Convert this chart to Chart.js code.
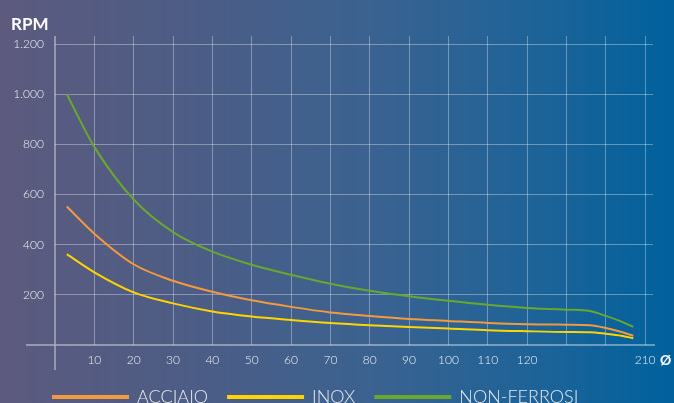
<!DOCTYPE html>
<html>
<head>
<meta charset="utf-8">
<script src="https://cdn.jsdelivr.net/npm/chart.js@4.4.0/dist/chart.umd.min.js"></script>
<style>
    html, body {
        margin: 0;
        padding: 0;
        overflow: hidden;
        width: 674px;
        height: 403px;
    }
    body {
        background: linear-gradient(to right, #5d5a7e 0%, #4b5d86 30%, #3b6290 55%, #1d6398 80%, #00619d 100%);
    }
    #wrap {
        position: relative;
        width: 674px;
        height: 416px;
    }
</style>
</head>
<body>
<div id="wrap"><canvas id="rpmChart"></canvas></div>
<script>
// Diameters (x, in axis units) and RPM values
const diameters = [3, 10, 20, 30, 40, 50, 60, 70, 80, 90, 100, 110, 120, 130, 136, 140, 144, 147];
const acciaio = [552, 444, 322, 256, 212, 178, 152, 130, 116, 104, 96, 88, 83, 81, 79, 68, 52, 37];
const inox = [362, 290, 210, 166, 134, 114, 100, 88, 79, 72, 66, 59, 55, 52, 51, 45, 37, 27];
const nonFerrosi = [1000, 790, 580, 450, 372, 320, 280, 244, 216, 194, 176, 160, 148, 141, 136, 116, 93, 72];

const seriesNames = ['ACCIAIO', 'INOX', 'NON-FERROSI'];
const seriesColors = ['#f39a3c', '#ffd400', '#69a82c'];

// x tick labels: 130 and 140 are left blank, the last one reads 210
const xTickLabels = {10: '10', 20: '20', 30: '30', 40: '40', 50: '50', 60: '60', 70: '70',
    80: '80', 90: '90', 100: '100', 110: '110', 120: '120', 130: '', 140: '', 150: '210'};

const textColor = '#eceff4';
const gridColor = 'rgba(255,255,255,0.34)';
const axisColor = 'rgba(255,255,255,0.5)';
const hidden = 'rgba(0,0,0,0)';

function toPoints(values) {
    return values.map((v, i) => ({ x: diameters[i], y: v }));
}

function formatThousands(v) {
    return String(v).replace(/\B(?=(\d{3})+(?!\d))/g, '.');
}

// hide the grid line at 0 (the axis lines are drawn by the plugin)
function xGridColor(c) {
    return c.tick && c.tick.value === 0 ? hidden : gridColor;
}

// y ticks come every 100, only every 200 is shown
function yGridColor(c) {
    if (!c.tick || c.tick.value === 0 || c.tick.value % 200 !== 0) return hidden;
    return gridColor;
}

// Axis lines crossing each other, plus the "RPM" and "Ø" captions
const decorations = {
    id: 'decorations',
    afterLayout(chart) {
        // legend starts a bit in from the left edge
        if (chart.legend) {
            chart.legend.left = 33;
        }
    },
    beforeDatasetsDraw(chart) {
        const { ctx, chartArea } = chart;
        ctx.save();
        ctx.strokeStyle = axisColor;
        ctx.lineWidth = 1.5;
        ctx.beginPath();
        ctx.moveTo(26, chartArea.bottom);
        ctx.lineTo(chartArea.right + 2, chartArea.bottom);
        ctx.moveTo(chartArea.left, chartArea.top);
        ctx.lineTo(chartArea.left, 370);
        ctx.stroke();
        ctx.restore();
    },
    afterDraw(chart) {
        const { ctx } = chart;
        ctx.save();
        ctx.fillStyle = '#ffffff';
        ctx.font = 'bold 17px Lato, "Open Sans", sans-serif';
        ctx.textBaseline = 'alphabetic';
        ctx.textAlign = 'left';
        ctx.fillText('RPM', 11, 30);
        ctx.font = 'bold 14px Lato, "Open Sans", sans-serif';
        ctx.fillText('Ø', 660, 365);
        ctx.restore();
    }
};

const ctx = document.getElementById('rpmChart').getContext('2d');
const rpmChart = new Chart(ctx, {
    type: 'line',
    data: {
        datasets: [acciaio, inox, nonFerrosi].map((values, i) => ({
            label: seriesNames[i],
            data: toPoints(values),
            borderColor: seriesColors[i],
            backgroundColor: seriesColors[i],
            borderWidth: 2,
            pointRadius: 0,
            cubicInterpolationMode: 'monotone',
            fill: false
        }))
    },
    options: {
        responsive: true,
        maintainAspectRatio: false,
        animation: false,
        layout: {
            padding: { left: 0, right: 21, top: 36, bottom: 0 }
        },
        scales: {
            x: {
                type: 'linear',
                min: 0,
                max: 152,
                ticks: {
                    stepSize: 10,
                    includeBounds: false,
                    autoSkip: false,
                    maxRotation: 0,
                    padding: 8,
                    color: textColor,
                    font: { family: 'Lato, "Open Sans", sans-serif', size: 12, weight: '300' },
                    callback: (v) => xTickLabels[v] !== undefined ? xTickLabels[v] : ''
                },
                grid: {
                    color: xGridColor,
                    lineWidth: 1,
                    drawTicks: false
                },
                border: { display: false },
                afterFit: (scale) => { scale.height = 23; }
            },
            y: {
                min: 0,
                max: 1232,
                ticks: {
                    stepSize: 100,
                    includeBounds: false,
                    autoSkip: false,
                    maxTicksLimit: 30,
                    padding: 11,
                    color: textColor,
                    font: { family: 'Lato, "Open Sans", sans-serif', size: 12, weight: '300' },
                    callback: (v) => (v === 0 || v % 200 !== 0) ? '' : formatThousands(v)
                },
                grid: {
                    color: yGridColor,
                    lineWidth: 1,
                    drawTicks: false
                },
                border: { display: false },
                afterFit: (scale) => { scale.width = 55; }
            }
        },
        plugins: {
            legend: {
                position: 'bottom',
                align: 'start',
                labels: {
                    boxWidth: 75,
                    boxHeight: 2,
                    padding: 20,
                    color: '#e3e8ef',
                    font: { family: 'Lato, "Open Sans", sans-serif', size: 18, weight: '300' }
                }
            },
            tooltip: { enabled: false },
            title: { display: false }
        }
    },
    plugins: [decorations]
});
</script>
</body>
</html>
